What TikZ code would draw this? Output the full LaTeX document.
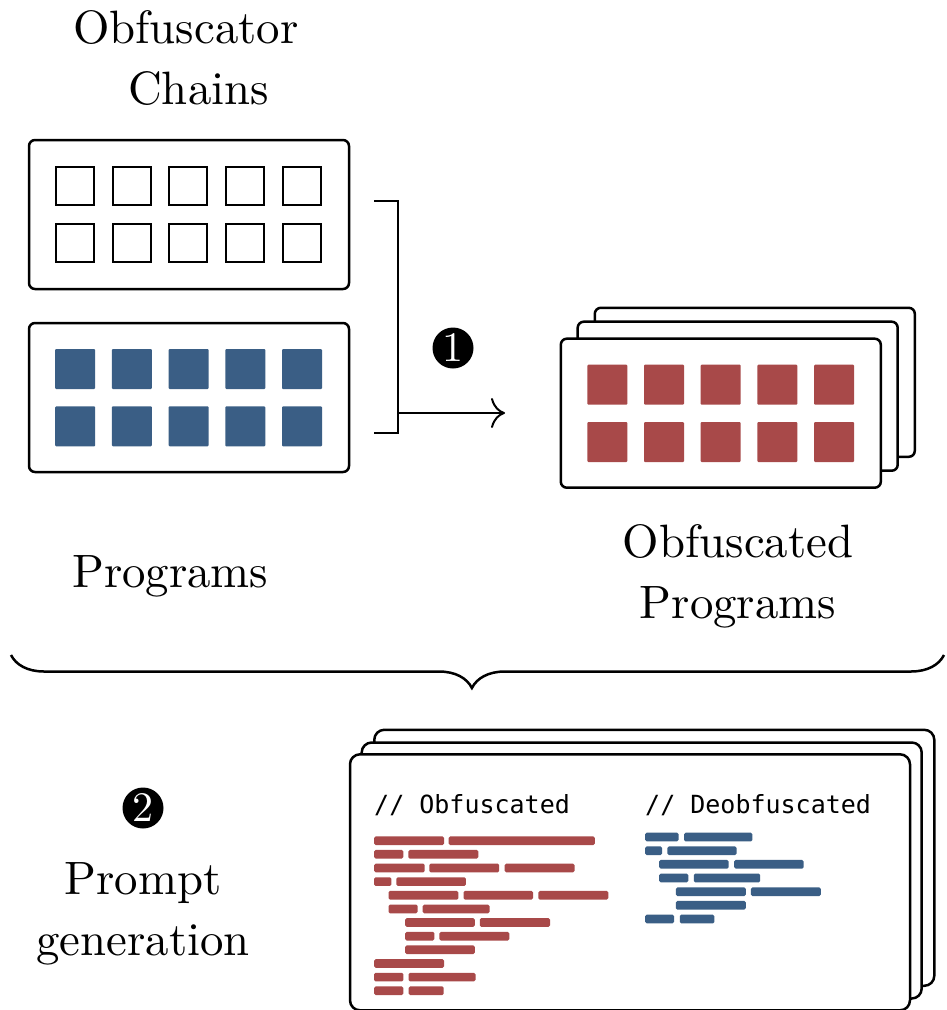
\documentclass[tikz,border=0pt]{standalone}
\usepackage{fontspec}
\setmainfont{lmroman10-regular.otf}
\newfontfamily\codefont{DejaVu Sans Mono}
\usetikzlibrary{arrows.meta,decorations.pathreplacing,calc}
\definecolor{pblue}{HTML}{3A5E85}
\definecolor{pred}{HTML}{A84949}
\newcommand\codebar[4]{\fill[#1,rounded corners=1.5pt] (#2,#4-4.35) rectangle (#3,#4+4.35);}
\begin{document}
\begin{tikzpicture}[x=1pt,y=-1pt,
  panel/.style={draw,line width=2.5pt,rounded corners=6pt,fill=white,minimum width=320pt,minimum height=149pt,inner sep=0pt},
  bigpanel/.style={draw,line width=2.5pt,rounded corners=10pt,fill=white,minimum width=560pt,minimum height=256pt,inner sep=0pt},
  osq/.style={draw,line width=2pt,minimum size=38pt,inner sep=0pt},
  bsq/.style={fill=pblue,minimum size=40pt,inner sep=0pt,rounded corners=1pt},
  rsq/.style={fill=pred,minimum size=40pt,inner sep=0pt,rounded corners=1pt},
  numc/.style={circle,fill=black,text=white,minimum size=41pt,inner sep=0pt,font=\fontsize{42}{42}\selectfont},
  lbl/.style={inner sep=0pt,font=\fontsize{46.8}{61}\selectfont},
  code/.style={inner sep=0pt,anchor=base west,font=\codefont\fontsize{25}{30}\selectfont},
  conn/.style={line width=2pt}
]
\useasboundingbox (0,0) rectangle (946,1010);

% left panels
\node[panel] (chains) at (189,214.5) {};
\foreach \i in {0,...,4} {
  \node[osq] (c0\i) at (75+56.7*\i,185.7) {};
  \node[osq] (c1\i) at (75+56.7*\i,243) {};
}
\node[panel] (progs) at (189,397.5) {};
\foreach \i in {0,...,4} {
  \node[bsq] (p0\i) at (75.2+56.7*\i,369) {};
  \node[bsq] (p1\i) at (75.2+56.7*\i,426.3) {};
}

% right stack
\node[panel] (ob3) at (754.8,382.3) {};
\node[panel] (ob2) at (737.7,396.2) {};
\node[panel] (ob1) at (720.8,413.2) {};
\foreach \i in {0,...,4} {
  \node[rsq] (r0\i) at (607.3+56.7*\i,384.7) {};
  \node[rsq] (r1\i) at (607.3+56.7*\i,442) {};
}

% bracket and arrow
\coordinate (bt) at (374,201);
\coordinate (bm) at (398,300);
\coordinate (bb) at (374,433);
\coordinate (as) at (398,413);
\coordinate (ae) at (505,413);
\draw[conn] (bt) -| (bm) |- (bb);
\draw[conn,-{To[length=14pt,width=30pt]}] (as) -- (ae);
\node[numc] (n1) at (453,348) {1};

% labels
\node[lbl,anchor=base west,align=left] (chainslbl) at (73,104.5) {Obfuscator\\\hspace*{55pt}Chains};
\node[lbl,anchor=base west] (progslbl) at (72,587) {Programs};
\node[lbl,anchor=base,align=center] (oblbl) at (738,618) {Obfuscated\\Programs};

% brace
\coordinate (br1) at (11,655);
\coordinate (br2) at (944,655);
\draw[decorate,decoration={brace,mirror,amplitude=33pt,aspect=0.494},line width=2.5pt] (br1) -- (br2);

% prompt generation
\node[numc] (n2) at (143,808) {2};
\node[lbl,anchor=base,align=center] (promptlbl) at (143,955) {Prompt\\generation};

% bottom stack
\node[bigpanel] (pr3) at (654.3,857.8) {};
\node[bigpanel] (pr2) at (641.7,870.5) {};
\node[bigpanel] (pr1) at (630,882.3) {};
\node[code] (obt) at (374,813) {// Obfuscated};
\node[code] (deobt) at (645,813) {// Deobfuscated};

% red code bars
\codebar{pred}{374.2}{444.1}{840.7}\codebar{pred}{448.7}{594.8}{840.7}
\codebar{pred}{374.2}{403.3}{854.3}\codebar{pred}{408.3}{478.3}{854.3}
\codebar{pred}{374.2}{424.7}{868}\codebar{pred}{429.3}{499.2}{868}\codebar{pred}{504.7}{574.6}{868}
\codebar{pred}{374.2}{391.3}{881.6}\codebar{pred}{396.3}{465.8}{881.6}
\codebar{pred}{388.5}{458.4}{895.3}\codebar{pred}{463.5}{533}{895.3}\codebar{pred}{538.4}{608.3}{895.3}
\codebar{pred}{388.5}{417.7}{908.9}\codebar{pred}{422.7}{489.5}{908.9}
\codebar{pred}{405.2}{474.8}{922.5}\codebar{pred}{479.8}{550.1}{922.5}
\codebar{pred}{405.2}{434.4}{936.2}\codebar{pred}{439.4}{509.3}{936.2}
\codebar{pred}{405.2}{474.8}{949.8}
\codebar{pred}{374.2}{444.1}{963.5}
\codebar{pred}{374.2}{403.3}{977.1}\codebar{pred}{408.7}{475.5}{977.1}
\codebar{pred}{374.2}{403.3}{990.7}\codebar{pred}{408.7}{443.7}{990.7}

% blue code bars
\codebar{pblue}{645.2}{678.6}{837}\codebar{pblue}{684.1}{752.4}{837}
\codebar{pblue}{645.2}{662}{850.7}\codebar{pblue}{667.4}{736.5}{850.7}
\codebar{pblue}{659.2}{728.7}{864.3}\codebar{pblue}{734.2}{803.7}{864.3}
\codebar{pblue}{659.2}{688.3}{878}\codebar{pblue}{693.8}{760.2}{878}
\codebar{pblue}{675.9}{745.8}{891.7}\codebar{pblue}{750.9}{820.8}{891.7}
\codebar{pblue}{675.9}{745.8}{905.3}
\codebar{pblue}{645.2}{674}{919}\codebar{pblue}{679.8}{714.4}{919}
\end{tikzpicture}
\end{document}
